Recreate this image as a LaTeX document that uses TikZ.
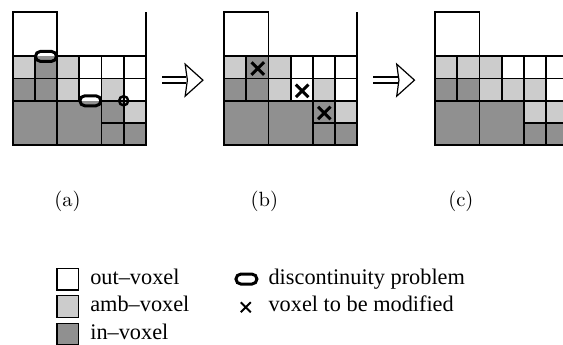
\documentclass[tikz,border=0pt]{standalone}
\usepackage{fontspec}
\newfontfamily\legendfont{Liberation Serif}
\usepackage{tikz}
\usetikzlibrary{shapes.misc, positioning, calc}
\definecolor{AmbGrau}{RGB}{204,204,204}
\definecolor{InGrau}{RGB}{144,144,144}

\begin{document}
\begin{tikzpicture}[x=11.1pt, y=11.1pt,
    voxel/.style={draw, line width=0.9pt},
    gapmark/.style={draw, rounded rectangle, line width=1.5pt, minimum width=10.5pt, minimum height=5pt, inner sep=0pt},
    problem/.style={gapmark, fill=InGrau, path picture={\fill[white] (path picture bounding box.north west) rectangle (path picture bounding box.east);}},
    cornermark/.style={draw, circle, line width=1.2pt, minimum size=4.6pt, inner sep=0pt},
    modmark/.style={draw, cross out, line width=1.5pt, minimum size=4.8pt, inner sep=0pt},
    legbox/.style={draw, line width=0.7pt, minimum size=10.8pt, inner sep=0pt, outer sep=0pt},
    legtext/.style={anchor=west, inner sep=0pt, text height=0.75em, text depth=0.21em, font=\legendfont\fontsize{11.15}{13}\selectfont},
    sublabel/.style={font=\fontsize{10.3}{12}\selectfont}]
\useasboundingbox (0,0) rectangle (25.36,15.50);

\coordinate (pa) at (0.57,8.96);
\coordinate (pb) at (10.09,8.96);
\coordinate (pc) at (19.6,8.96);

\foreach \p in {pa,pb}
{
    \begin{scope}[shift={(\p)}]
    \draw[voxel, fill=white] (0,4) rectangle (2,6);
    \draw[voxel] (6,0) -- (6,6);
    \foreach \x/\y/\s/\f in {0/3/1/AmbGrau, 1/3/1/InGrau, 2/3/1/AmbGrau, 3/3/1/white, 4/3/1/white, 5/3/1/white,
                             0/2/1/InGrau, 1/2/1/InGrau, 2/2/1/AmbGrau, 3/2/1/white, 4/2/1/AmbGrau, 5/2/1/white,
                             0/0/2/InGrau, 2/0/2/InGrau, 4/1/1/InGrau, 5/1/1/AmbGrau, 4/0/1/InGrau, 5/0/1/InGrau}
        \draw[voxel, fill=\f] (\x,\y) rectangle ++(\s,\s);
    \end{scope}
}

\begin{scope}[shift={(pc)}]
\draw[voxel, fill=white] (0,4) rectangle (2,6);
\draw[voxel] (6,0) -- (6,6);
\foreach \x/\y/\s/\f in {0/3/1/AmbGrau, 1/3/1/AmbGrau, 2/3/1/AmbGrau, 3/3/1/white, 4/3/1/white, 5/3/1/white,
                         0/2/1/InGrau, 1/2/1/InGrau, 2/2/1/AmbGrau, 3/2/1/AmbGrau, 4/2/1/AmbGrau, 5/2/1/white,
                         0/0/2/InGrau, 2/0/2/InGrau, 4/1/1/AmbGrau, 5/1/1/AmbGrau, 4/0/1/InGrau, 5/0/1/InGrau}
    \draw[voxel, fill=\f] (\x,\y) rectangle ++(\s,\s);
\end{scope}

\node[problem] (gap1) at ($(pa)+(1.5,4)$) {};
\node[problem] (gap2) at ($(pa)+(3.5,2)$) {};
\node[cornermark] (gap3) at ($(pa)+(5,2)$) {};

\node[modmark] (mod1) at ($(pb)+(1.52,3.45)$) {};
\node[modmark] (mod2) at ($(pb)+(3.52,2.45)$) {};
\node[modmark] (mod3) at ($(pb)+(4.52,1.45)$) {};

\coordinate (arr1s) at (7.30,11.89);
\coordinate (arr1t) at (9.14,11.89);
\coordinate (arr2s) at (16.82,11.89);
\coordinate (arr2t) at (18.67,11.89);
\foreach \s/\t in {arr1s/arr1t, arr2s/arr2t}
{
    \draw[line width=1.2pt] ($(\s)+(0,0.14)$) -- ($(\t)+(-0.74,0.14)$);
    \draw[line width=1.2pt] ($(\s)+(0,-0.14)$) -- ($(\t)+(-0.74,-0.14)$);
    \draw[line width=0.6pt, fill=white] ($(\t)+(-0.8,0.72)$) -- (\t) -- ($(\t)+(-0.8,-0.72)$) -- ($(\t)+(-0.7,0)$) -- cycle;
}

\node[sublabel] (laba) at (3.04,6.42) {(a)};
\node[sublabel] (labb) at (11.91,6.42) {(b)};
\node[sublabel] (labc) at (20.76,6.42) {(c)};

\node[legbox, fill=white] (kout) at (3.06,2.93) {};
\node[legbox, fill=AmbGrau] (kamb) at (3.06,1.69) {};
\node[legbox, fill=InGrau] (kin) at (3.06,0.45) {};
\node[legtext] (tout) at (4.05,2.93) {out\textendash voxel};
\node[legtext] (tamb) at (4.05,1.69) {amb\textendash voxel};
\node[legtext] (tin) at (4.05,0.45) {in\textendash voxel};

\node[gapmark, fill=white] (kgap) at (11.1,2.93) {};
\node[modmark, line width=1pt, minimum size=4pt] (kmod) at (11.07,1.66) {};
\node[legtext] (tgap) at (12.08,2.93) {discontinuity problem};
\node[legtext] (tmod) at (12.08,1.69) {voxel to be modified};
\end{tikzpicture}
\end{document}
